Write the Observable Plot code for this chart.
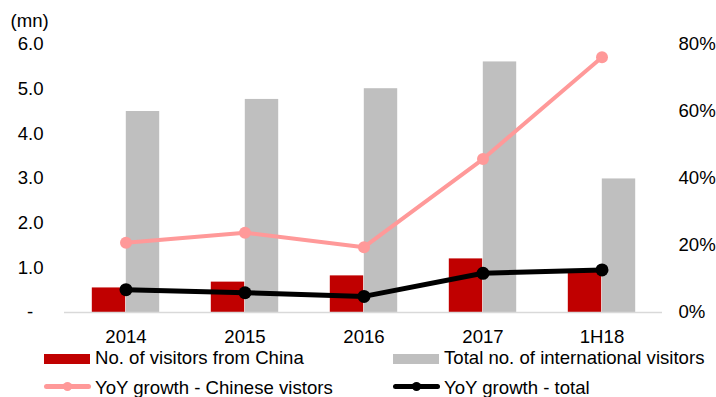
<!DOCTYPE html>
<html>
<head>
<meta charset="utf-8">
<script src="https://cdn.jsdelivr.net/npm/d3@7"></script>
<script src="https://cdn.jsdelivr.net/npm/@observablehq/plot@0.6"></script>
<style>
  html, body { margin: 0; padding: 0; background: #fff; }
  #wrap { position: relative; width: 716px; height: 397px; overflow: hidden; font-family: "Liberation Sans", Arial, Helvetica, sans-serif; }
  #chart svg { display: block; }
  .leg { position: absolute; font-size: 18.6px; color: #000; white-space: nowrap; line-height: 1; }
  .sw { position: absolute; }
</style>
</head>
<body>
<div id="wrap">
  <div id="chart"></div>
  <div id="legend"></div>
</div>
<script>
const categories = ["2014", "2015", "2016", "2017", "1H18"];
const chinaVisitors = [0.55, 0.68, 0.82, 1.20, 0.90];   // mn
const totalVisitors = [4.50, 4.77, 5.01, 5.61, 2.99];   // mn
const yoyChina = [20.8, 23.8, 19.5, 45.8, 76.2];        // %
const yoyTotal = [6.8, 5.9, 4.8, 11.7, 12.7];           // %
const leftTicks = [0, 1, 2, 3, 4, 5, 6];
const rightTicks = [0, 20, 40, 60, 80];
const seriesNames = ["No. of visitors from China", "Total no. of international visitors", "YoY growth - Chinese vistors", "YoY growth - total"];

const leftMax = 6, rightMax = 80;
const toLeft = p => p * leftMax / rightMax;

const rows = categories.map((c, i) => ({
  cat: c, china: chinaVisitors[i], total: totalVisitors[i],
  yc: yoyChina[i], yt: yoyTotal[i]
}));

const W = 716, H = 350, mL = 64, mR = 54, mT = 44, mB = 38;
const bw = (W - mL - mR) / categories.length;
const barW = 34;
const FS = 18.6;

const RED = "#C00000", GRAY = "#BFBFBF", PINK = "#FF9999", BLACK = "#000000";

const chart = Plot.plot({
  width: W, height: H,
  marginLeft: mL, marginRight: mR, marginTop: mT, marginBottom: mB,
  style: { fontFamily: "'Liberation Sans', Arial, Helvetica, sans-serif", fontSize: FS + "px", color: "#000", background: "#fff" },
  x: { type: "band", domain: categories, padding: 0, label: null },
  y: { domain: [0, leftMax], label: null },
  marks: [
    Plot.barY(rows, { x: "cat", y: "china", fill: RED, insetLeft: bw / 2 - barW, insetRight: bw / 2 }),
    Plot.barY(rows, { x: "cat", y: "total", fill: GRAY, insetLeft: bw / 2, insetRight: bw / 2 - barW }),
    Plot.ruleY([0], { stroke: "#D9D9D9", strokeWidth: 1.5 }),
    Plot.line(rows, { x: "cat", y: d => toLeft(d.yc), stroke: PINK, strokeWidth: 4 }),
    Plot.dot(rows, { x: "cat", y: d => toLeft(d.yc), fill: PINK, r: 6 }),
    Plot.line(rows, { x: "cat", y: d => toLeft(d.yt), stroke: BLACK, strokeWidth: 5 }),
    Plot.dot(rows, { x: "cat", y: d => toLeft(d.yt), fill: BLACK, r: 6.5 }),
    Plot.axisX({ tickSize: 0, tickPadding: 17, fontSize: FS, label: null }),
    Plot.axisY({ anchor: "left", ticks: leftTicks, tickSize: 0, tickPadding: 21, fontSize: FS, label: null,
      tickFormat: d => d === 0 ? "-\u00a0\u00a0" : d3.format(".1f")(d) }),
    Plot.axisY({ anchor: "right", ticks: rightTicks.map(toLeft), tickSize: 0, tickPadding: 16, fontSize: FS, label: null,
      tickFormat: d => Math.round(d * rightMax / leftMax) + "%" }),
    Plot.text(["(mn)"], { frameAnchor: "top-left", dx: -54, dy: -23, textAnchor: "start", lineAnchor: "middle", fontSize: FS })
  ]
});
document.getElementById("chart").appendChild(chart);

// Legend (HTML, below the SVG area)
const legend = document.getElementById("legend");
const items = [
  { name: seriesNames[0], kind: "box", color: RED, x: 44, y: 354 },
  { name: seriesNames[1], kind: "box", color: GRAY, x: 393, y: 354 },
  { name: seriesNames[2], kind: "line", color: PINK, x: 44, y: 384, lw: 5, mr: 4.5 },
  { name: seriesNames[3], kind: "line", color: BLACK, x: 393, y: 384, lw: 5, mr: 4.5 }
];
for (const it of items) {
  if (it.kind === "box") {
    const s = document.createElement("div");
    s.className = "sw";
    Object.assign(s.style, { left: it.x + "px", top: it.y + "px", width: "46px", height: "10px", background: it.color });
    legend.appendChild(s);
  } else {
    const s = document.createElement("div");
    s.className = "sw";
    Object.assign(s.style, { left: it.x + "px", top: (it.y + 2.5 - it.lw / 2) + "px", width: "47px", height: it.lw + "px", background: it.color, borderRadius: "3px" });
    legend.appendChild(s);
    const m = document.createElement("div");
    m.className = "sw";
    Object.assign(m.style, { left: (it.x + 23.5 - it.mr) + "px", top: (it.y + 2.5 - it.mr) + "px", width: (2 * it.mr) + "px", height: (2 * it.mr) + "px", background: it.color, borderRadius: "50%" });
    legend.appendChild(m);
  }
  const t = document.createElement("div");
  t.className = "leg";
  t.textContent = it.name;
  Object.assign(t.style, { left: (it.x + 51) + "px", top: (it.y - 5) + "px" });
  legend.appendChild(t);
}
</script>
</body>
</html>
